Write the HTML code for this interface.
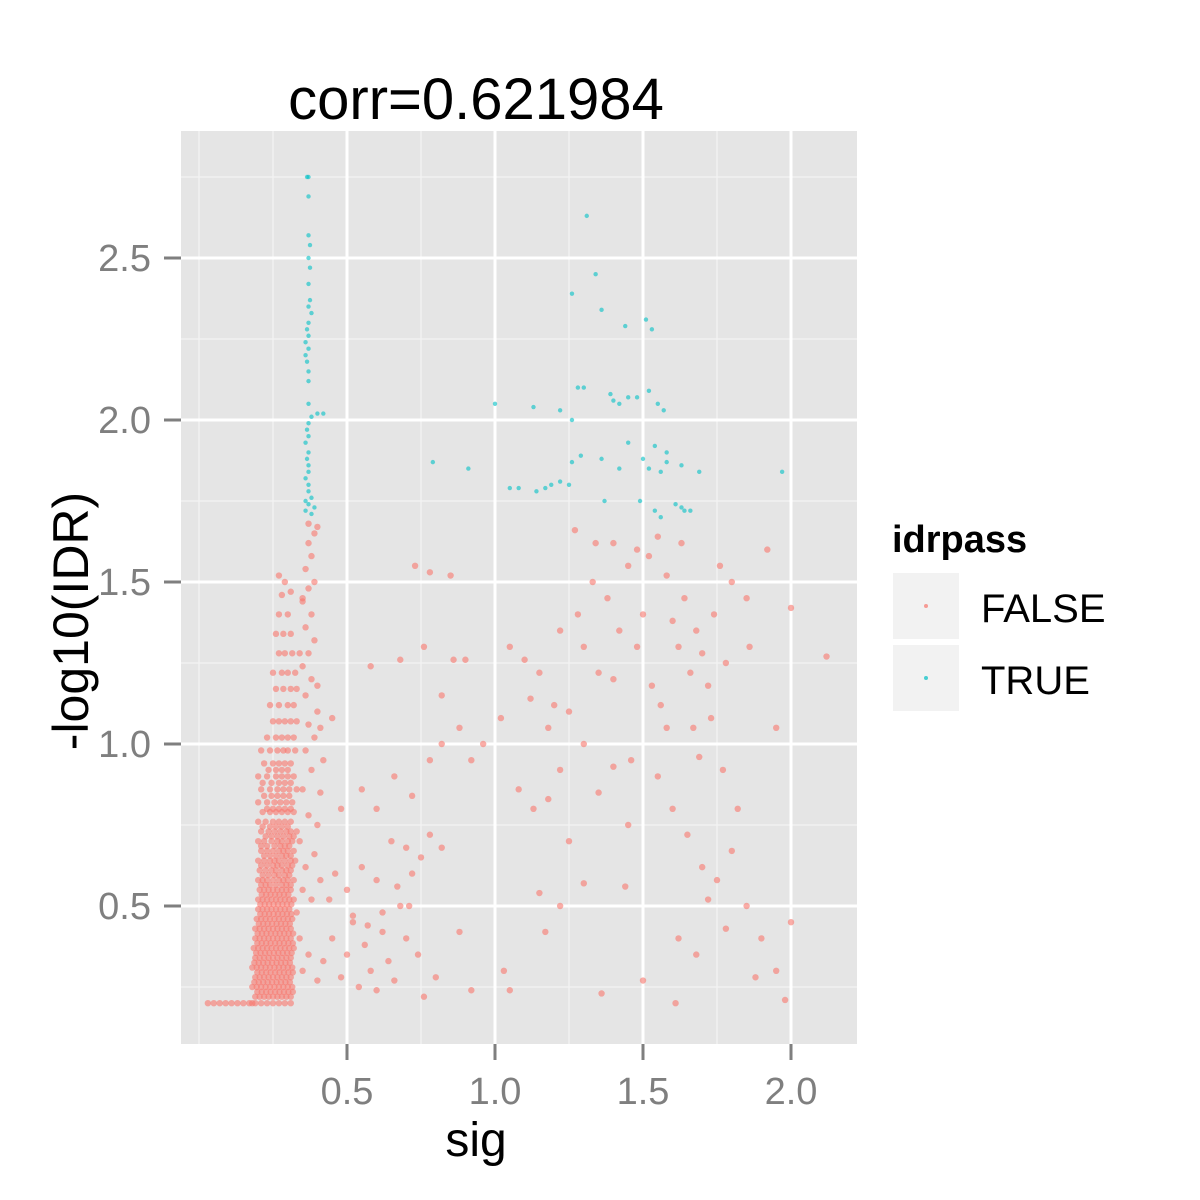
<!DOCTYPE html>
<html><head><meta charset="utf-8"><style>
html,body{margin:0;padding:0;background:#fff;}
svg{display:block;font-family:"Liberation Sans",Arial,sans-serif;}
</style></head><body>
<svg id="chart" width="1200" height="1200" viewBox="0 0 1200 1200" xmlns="http://www.w3.org/2000/svg">
<rect width="1200" height="1200" fill="#fff"/>
<text x="476" y="119" font-size="58" text-anchor="middle" fill="#000">corr=0.621984</text>
<rect x="181" y="131" width="676" height="913" fill="#e5e5e5"/>
<g id="grid"></g>
<g id="pts"></g>
<g id="axes"></g>
<text x="476" y="1156" font-size="48" text-anchor="middle" fill="#000">sig</text>
<text transform="translate(88,621) rotate(-90)" font-size="50" text-anchor="middle" fill="#000">-log10(IDR)</text>
<g>
<text x="892" y="552" font-size="38" font-weight="bold" fill="#000">idrpass</text>
<rect x="893" y="573" width="66" height="66" fill="#f2f2f2"/>
<circle cx="926" cy="606" r="2" fill="#F8766D" opacity="0.7"/>
<text x="981" y="622" font-size="40" fill="#000">FALSE</text>
<rect x="893" y="645" width="66" height="66" fill="#f2f2f2"/>
<circle cx="926" cy="678" r="2" fill="#00BFC4" opacity="0.7"/>
<text x="981" y="694" font-size="40" fill="#000">TRUE</text>
</g>
</svg>
<script>
const xTicks = [0.5, 1.0, 1.5, 2.0];
const xTickLabels = ["0.5", "1.0", "1.5", "2.0"];
const yTicks = [0.5, 1.0, 1.5, 2.0, 2.5];
const yTickLabels = ["0.5", "1.0", "1.5", "2.0", "2.5"];
const xMinor = [0, 0.25, 0.75, 1.25, 1.75];
const yMinor = [0.25, 0.75, 1.25, 1.75, 2.25, 2.75];

const trueX = [0.37,0.365,0.37,0.37,0.375,0.37,0.375,0.37,0.375,0.37,0.38,0.37,0.365,0.37,0.36,0.37,0.36,0.365,0.37,0.37,0.37,0.38,0.40,0.42,0.37,0.365,0.37,0.36,0.37,0.365,0.37,0.37,0.36,0.37,0.37,0.38,0.36,0.37,0.36,0.38,0.39,
1.31,1.34,1.26,1.36,1.44,1.51,1.53,1.00,1.13,1.22,1.28,1.30,1.39,1.40,1.42,1.45,1.48,1.52,1.55,1.57,1.26,0.79,0.91,1.05,1.08,1.14,1.17,1.19,1.22,1.25,1.26,1.29,1.36,1.42,1.45,1.50,1.52,1.54,1.58,1.58,1.56,1.63,1.69,1.97,1.37,1.49,1.54,1.56,1.61,1.63,1.64,1.66];
const trueY = [2.75,2.75,2.69,2.57,2.54,2.50,2.47,2.42,2.37,2.35,2.33,2.30,2.28,2.26,2.24,2.22,2.20,2.18,2.15,2.12,2.05,2.01,2.02,2.02,1.99,1.97,1.95,1.93,1.90,1.88,1.86,1.84,1.82,1.80,1.78,1.76,1.75,1.74,1.72,1.71,1.73,
2.63,2.45,2.39,2.34,2.29,2.31,2.28,2.05,2.04,2.03,2.10,2.10,2.08,2.06,2.05,2.07,2.07,2.09,2.05,2.03,2.00,1.87,1.85,1.79,1.79,1.78,1.79,1.80,1.81,1.80,1.87,1.89,1.88,1.85,1.93,1.88,1.85,1.92,1.90,1.87,1.84,1.86,1.84,1.84,1.75,1.75,1.72,1.70,1.74,1.73,1.72,1.72];

const falsePoints = [
[0.03,0.2],[0.05,0.2],[0.07,0.2],[0.09,0.2],[0.11,0.2],[0.13,0.2],[0.15,0.2],[0.17,0.2],[0.18,0.2],[0.19,0.2],[0.21,0.2],[0.23,0.2],[0.25,0.2],[0.27,0.2],[0.29,0.2],[0.31,0.2],
[0.19,0.22],[0.205,0.22],[0.22,0.22],[0.235,0.22],[0.25,0.22],[0.265,0.22],[0.28,0.22],[0.295,0.22],[0.31,0.22],
[0.18,0.25],[0.195,0.25],[0.21,0.25],[0.225,0.25],[0.24,0.25],[0.255,0.25],[0.27,0.25],[0.285,0.25],[0.30,0.25],[0.315,0.25],
[0.19,0.28],[0.205,0.28],[0.22,0.28],[0.235,0.28],[0.25,0.28],[0.265,0.28],[0.28,0.28],[0.295,0.28],[0.31,0.28],
[0.18,0.31],[0.195,0.31],[0.21,0.31],[0.225,0.31],[0.24,0.31],[0.255,0.31],[0.27,0.31],[0.285,0.31],[0.30,0.31],[0.315,0.31],
[0.19,0.34],[0.205,0.34],[0.22,0.34],[0.235,0.34],[0.25,0.34],[0.265,0.34],[0.28,0.34],[0.295,0.34],[0.31,0.34],
[0.185,0.37],[0.20,0.37],[0.215,0.37],[0.23,0.37],[0.245,0.37],[0.26,0.37],[0.275,0.37],[0.29,0.37],[0.305,0.37],[0.32,0.37],
[0.19,0.40],[0.205,0.40],[0.22,0.40],[0.235,0.40],[0.25,0.40],[0.265,0.40],[0.28,0.40],[0.295,0.40],[0.31,0.40],
[0.19,0.43],[0.205,0.43],[0.22,0.43],[0.235,0.43],[0.25,0.43],[0.265,0.43],[0.28,0.43],[0.295,0.43],[0.31,0.43],
[0.195,0.46],[0.21,0.46],[0.225,0.46],[0.24,0.46],[0.255,0.46],[0.27,0.46],[0.285,0.46],[0.30,0.46],[0.315,0.46],
[0.20,0.49],[0.215,0.49],[0.23,0.49],[0.245,0.49],[0.26,0.49],[0.275,0.49],[0.29,0.49],[0.305,0.49],
[0.20,0.52],[0.215,0.52],[0.23,0.52],[0.245,0.52],[0.26,0.52],[0.275,0.52],[0.29,0.52],[0.305,0.52],[0.32,0.52],
[0.205,0.55],[0.22,0.55],[0.235,0.55],[0.25,0.55],[0.265,0.55],[0.28,0.55],[0.295,0.55],[0.31,0.55],
[0.20,0.58],[0.215,0.58],[0.23,0.58],[0.25,0.58],[0.27,0.58],[0.285,0.58],[0.30,0.58],[0.32,0.58],
[0.205,0.61],[0.225,0.61],[0.245,0.61],[0.26,0.61],[0.28,0.61],[0.295,0.61],[0.31,0.61],
[0.20,0.64],[0.22,0.64],[0.24,0.64],[0.255,0.64],[0.27,0.64],[0.29,0.64],[0.31,0.64],[0.325,0.64],
[0.21,0.67],[0.23,0.67],[0.25,0.67],[0.27,0.67],[0.285,0.67],[0.30,0.67],[0.32,0.67],
[0.20,0.70],[0.22,0.70],[0.245,0.70],[0.265,0.70],[0.28,0.70],[0.30,0.70],[0.315,0.70],
[0.21,0.73],[0.235,0.73],[0.255,0.73],[0.275,0.73],[0.295,0.73],[0.31,0.73],[0.33,0.73],
[0.20,0.76],[0.225,0.76],[0.25,0.76],[0.27,0.76],[0.29,0.76],[0.31,0.76],
[0.215,0.79],[0.24,0.79],[0.26,0.79],[0.28,0.79],[0.30,0.79],[0.32,0.79],
[0.20,0.82],[0.23,0.82],[0.255,0.82],[0.275,0.82],[0.295,0.82],[0.315,0.82],
[0.21,0.86],[0.24,0.86],[0.265,0.86],[0.285,0.86],[0.305,0.86],[0.33,0.86],
[0.20,0.90],[0.23,0.90],[0.26,0.90],[0.28,0.90],[0.30,0.90],[0.32,0.90],
[0.22,0.94],[0.25,0.94],[0.27,0.94],[0.29,0.94],[0.31,0.94],
[0.21,0.98],[0.24,0.98],[0.265,0.98],[0.285,0.98],[0.30,0.98],[0.325,0.98],
[0.23,1.02],[0.26,1.02],[0.28,1.02],[0.30,1.02],[0.32,1.02],
[0.25,1.07],[0.27,1.07],[0.29,1.07],[0.31,1.07],[0.33,1.07],
[0.24,1.12],[0.27,1.12],[0.30,1.12],[0.32,1.12],
[0.26,1.17],[0.285,1.17],[0.31,1.17],[0.33,1.17],
[0.25,1.22],[0.28,1.22],[0.30,1.22],[0.325,1.22],
[0.27,1.28],[0.29,1.28],[0.315,1.28],
[0.26,1.34],[0.285,1.34],[0.31,1.34],
[0.27,1.40],[0.30,1.40],[0.28,1.46],[0.31,1.47],[0.29,1.50],[0.27,1.52],
[0.35,0.55],[0.36,0.62],[0.34,0.70],[0.37,0.78],[0.35,0.86],[0.38,0.92],[0.36,0.98],[0.39,1.02],[0.37,1.06],[0.40,1.10],[0.36,1.15],[0.38,1.20],[0.35,1.24],[0.37,1.28],[0.39,1.32],[0.36,1.36],[0.38,1.40],[0.35,1.44],[0.37,1.48],[0.39,1.50],[0.36,1.54],[0.38,1.58],[0.37,1.62],[0.39,1.65],[0.40,1.67],[0.37,1.68],[0.35,1.45],[0.34,1.28],[0.40,1.18],[0.41,1.05],[0.42,0.95],[0.41,0.85],[0.40,0.75],[0.39,0.66],[0.41,0.58],[0.38,0.52],[0.33,0.48],[0.34,0.40],
[0.35,0.30],[0.37,0.35],[0.40,0.27],[0.42,0.33],[0.45,0.40],[0.48,0.28],[0.50,0.35],[0.52,0.45],[0.54,0.25],[0.56,0.38],[0.58,0.30],[0.60,0.24],[0.62,0.42],[0.64,0.33],[0.66,0.27],[0.68,0.50],[0.70,0.40],[0.72,0.60],[0.74,0.35],[0.76,0.22],[0.44,0.52],[0.46,0.60],[0.50,0.55],[0.55,0.62],[0.60,0.58],[0.65,0.70],[0.70,0.68],[0.75,0.65],[0.78,0.72],[0.82,0.68],[0.48,0.80],[0.55,0.86],[0.60,0.80],[0.66,0.90],[0.72,0.84],[0.78,0.95],[0.82,1.00],[0.88,1.05],[0.92,0.95],[0.96,1.00],[0.45,1.08],[0.58,1.24],[0.68,1.26],[0.76,1.30],[0.86,1.26],[0.90,1.26],[0.82,1.15],[0.73,1.55],[0.78,1.53],[0.85,1.52],[0.52,0.47],[0.57,0.44],[0.62,0.48],[0.67,0.56],[0.71,0.50],[0.80,0.28],[0.88,0.42],[0.92,0.24],
[1.02,1.08],[1.05,1.30],[1.10,1.26],[1.12,1.14],[1.15,1.22],[1.18,1.05],[1.20,1.12],[1.22,1.35],[1.25,1.10],[1.28,1.40],[1.30,1.30],[1.33,1.50],[1.35,1.22],[1.38,1.45],[1.40,1.62],[1.42,1.35],[1.45,1.55],[1.48,1.60],[1.50,1.40],[1.52,1.58],[1.55,1.64],[1.58,1.52],[1.60,1.38],[1.62,1.30],[1.64,1.45],[1.66,1.22],[1.68,1.35],[1.70,1.28],[1.72,1.18],[1.74,1.40],[1.76,1.55],[1.78,1.25],[1.80,1.50],[1.85,1.45],[1.92,1.60],[2.00,1.42],[2.12,1.27],[1.63,1.62],[1.56,1.12],[1.46,0.95],[1.40,0.93],[1.30,1.00],[1.08,0.86],[1.13,0.80],[1.18,0.83],[1.22,0.92],[1.25,0.70],[1.35,0.85],[1.45,0.75],[1.55,0.90],[1.60,0.80],[1.65,0.72],[1.70,0.62],[1.72,0.52],[1.75,0.58],[1.80,0.67],[1.85,0.50],[1.90,0.40],[1.95,0.30],[2.00,0.45],[1.62,0.40],[1.68,0.35],[1.78,0.43],[1.88,0.28],[1.98,0.21],[1.61,0.20],[1.50,0.27],[1.36,0.23],[1.30,0.57],[1.44,0.56],[1.15,0.54],[1.17,0.42],[1.03,0.30],[1.05,0.24],[1.22,0.50],[1.40,1.20],[1.48,1.30],[1.53,1.18],[1.67,1.05],[1.73,1.08],[1.77,0.92],[1.82,0.80],[1.69,0.96],[1.34,1.62],[1.27,1.66],[1.58,1.05],[1.86,1.30],[1.95,1.05],
[0.197,0.235],[0.212,0.235],[0.227,0.235],[0.242,0.235],[0.257,0.235],[0.272,0.235],[0.287,0.235],[0.302,0.235],[0.317,0.235],
[0.187,0.265],[0.202,0.265],[0.217,0.265],[0.232,0.265],[0.247,0.265],[0.262,0.265],[0.277,0.265],[0.292,0.265],[0.307,0.265],
[0.197,0.295],[0.212,0.295],[0.227,0.295],[0.242,0.295],[0.257,0.295],[0.272,0.295],[0.287,0.295],[0.302,0.295],[0.317,0.295],
[0.187,0.325],[0.202,0.325],[0.217,0.325],[0.232,0.325],[0.247,0.325],[0.262,0.325],[0.277,0.325],[0.292,0.325],[0.307,0.325],
[0.193,0.355],[0.208,0.355],[0.223,0.355],[0.238,0.355],[0.253,0.355],[0.268,0.355],[0.283,0.355],[0.298,0.355],[0.313,0.355],
[0.197,0.385],[0.212,0.385],[0.227,0.385],[0.242,0.385],[0.257,0.385],[0.272,0.385],[0.287,0.385],[0.302,0.385],[0.317,0.385],
[0.198,0.415],[0.213,0.415],[0.228,0.415],[0.243,0.415],[0.258,0.415],[0.273,0.415],[0.288,0.415],[0.303,0.415],[0.318,0.415],
[0.202,0.445],[0.217,0.445],[0.232,0.445],[0.247,0.445],[0.262,0.445],[0.277,0.445],[0.292,0.445],[0.307,0.445],
[0.207,0.475],[0.222,0.475],[0.237,0.475],[0.252,0.475],[0.267,0.475],[0.282,0.475],[0.297,0.475],[0.312,0.475],
[0.207,0.505],[0.222,0.505],[0.237,0.505],[0.252,0.505],[0.267,0.505],[0.282,0.505],[0.297,0.505],[0.312,0.505],
[0.212,0.535],[0.227,0.535],[0.242,0.535],[0.257,0.535],[0.272,0.535],[0.287,0.535],[0.302,0.535],
[0.21,0.565],[0.225,0.565],[0.24,0.565],[0.26,0.565],[0.28,0.565],[0.295,0.565],[0.31,0.565],
[0.215,0.595],[0.235,0.595],[0.255,0.595],[0.27,0.595],[0.29,0.595],[0.305,0.595],
[0.21,0.625],[0.23,0.625],[0.25,0.625],[0.265,0.625],[0.28,0.625],[0.30,0.625],[0.315,0.625],
[0.22,0.655],[0.24,0.655],[0.26,0.655],[0.28,0.655],[0.295,0.655],[0.31,0.655],
[0.21,0.685],[0.23,0.685],[0.255,0.685],[0.275,0.685],[0.29,0.685],[0.305,0.685],
[0.225,0.715],[0.245,0.715],[0.265,0.715],[0.285,0.715],[0.305,0.715],[0.32,0.715],
[0.215,0.745],[0.24,0.745],[0.26,0.745],[0.28,0.745],[0.30,0.745],
[0.23,0.80],[0.25,0.80],[0.27,0.80],[0.29,0.80],[0.31,0.80],
[0.22,0.84],[0.245,0.84],[0.265,0.84],[0.285,0.84],[0.305,0.84],
[0.215,0.88],[0.245,0.88],[0.27,0.88],[0.29,0.88],[0.31,0.88],
[0.235,0.92],[0.26,0.92],[0.28,0.92],[0.30,0.92]
];

const X0 = 199, XS = 296, Y0 = 1068, YS = 324;
const sx = v => X0 + v * XS;
const sy = v => Y0 - v * YS;
const NS = "http://www.w3.org/2000/svg";
const grid = document.getElementById('grid');
const pts = document.getElementById('pts');
const axes = document.getElementById('axes');
function mk(tag, attrs, parent) {
  const e = document.createElementNS(NS, tag);
  for (const k in attrs) e.setAttribute(k, attrs[k]);
  parent.appendChild(e);
  return e;
}
xMinor.forEach(v => {
  const l = mk('line', {x1: sx(v), x2: sx(v), y1: 131, y2: 1044, stroke: '#f2f2f2', 'stroke-width': 1.5}, grid);
  
  
});
yMinor.forEach(v => {
  const l = mk('line', {x1: 181, x2: 857, y1: sy(v), y2: sy(v), stroke: '#f2f2f2', 'stroke-width': 1.5}, grid);
  
  
});
xTicks.forEach((v, i) => {
  const l = mk('line', {x1: sx(v), x2: sx(v), y1: 131, y2: 1044, stroke: '#fff', 'stroke-width': 3}, grid);
  
  
  const t = mk('line', {x1: sx(v), x2: sx(v), y1: 1044, y2: 1060, stroke: '#7f7f7f', 'stroke-width': 3}, axes);
  
  
  const tx = mk('text', {x: sx(v), y: 1104, 'font-size': 38, 'text-anchor': 'middle', fill: '#7f7f7f'}, axes);
  tx.textContent = xTickLabels[i];
  
  
});
yTicks.forEach((v, i) => {
  const l = mk('line', {x1: 181, x2: 857, y1: sy(v), y2: sy(v), stroke: '#fff', 'stroke-width': 3}, grid);
  
  
  const t = mk('line', {x1: 164, x2: 181, y1: sy(v), y2: sy(v), stroke: '#7f7f7f', 'stroke-width': 3}, axes);
  
  
  const tx = mk('text', {x: 151, y: sy(v) + 13, 'font-size': 38, 'text-anchor': 'end', fill: '#7f7f7f'}, axes);
  tx.textContent = yTickLabels[i];
  
  
});
falsePoints.forEach(p => {
  const c = mk('circle', {cx: sx(p[0]), cy: sy(p[1]), r: 3.2, fill: '#F8766D', 'fill-opacity': 0.6}, pts);
  
  
});
trueX.forEach((x, i) => {
  const c = mk('circle', {cx: sx(x), cy: sy(trueY[i]), r: 2.2, fill: '#00BFC4', 'fill-opacity': 0.6}, pts);
  
  
});
</script>
</body></html>
